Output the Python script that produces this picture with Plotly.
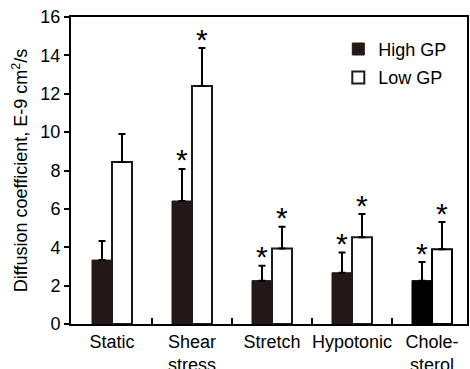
import plotly.graph_objects as go

categories = ["Static", "Shear<br>stress", "Stretch", "Hypotonic", "Chole-<br>sterol"]
high_gp = [3.33, 6.41, 2.26, 2.67, 2.26]
high_gp_err = [1.00, 1.67, 0.78, 1.05, 0.97]
low_gp = [8.44, 12.40, 3.94, 4.52, 3.89]
low_gp_err = [1.46, 1.98, 1.13, 1.21, 1.42]
high_sig = [False, True, True, True, True]
low_sig = [False, True, True, True, True]
y_ticks = [0, 2, 4, 6, 8, 10, 12, 14, 16]

DARK = "#231815"
high_colors = [DARK, DARK, DARK, DARK, "#000000"]
low_lines = [DARK, DARK, DARK, DARK, "#000000"]
FONT = "Liberation Sans, Arial, sans-serif"

fig = go.Figure()
fig.add_trace(go.Bar(
    name="High GP", x=categories, y=high_gp, legendgroup="h",
    marker=dict(color=high_colors, line=dict(color=high_colors, width=1)),
    error_y=dict(type="data", array=high_gp_err, arrayminus=[0]*5, symmetric=False,
                 color="#000000", thickness=2, width=3.5),
))
fig.add_trace(go.Bar(
    name="Low GP", x=categories, y=low_gp, legendgroup="l",
    marker=dict(color="#ffffff", line=dict(color=low_lines, width=2)),
    error_y=dict(type="data", array=low_gp_err, arrayminus=[0]*5, symmetric=False,
                 color="#000000", thickness=2, width=3.5),
))

# significance asterisks above error bars
for i in range(len(categories)):
    for sig, val, err, off in ((high_sig[i], high_gp[i], high_gp_err[i], -0.125),
                               (low_sig[i], low_gp[i], low_gp_err[i], 0.125)):
        if sig:
            fig.add_annotation(x=i + off, y=val + err, text="*", showarrow=False,
                               xref="x", yref="y", yanchor="middle", yshift=9,
                               font=dict(family=FONT, size=30, color="#000000"))

fig.update_layout(
    width=470, height=369,
    margin=dict(l=71, r=3, t=17, b=45, autoexpand=False),
    paper_bgcolor="white", plot_bgcolor="white",
    barmode="group", bargap=0.5, bargroupgap=0,
    font=dict(family=FONT, size=18, color="#000000"),
    showlegend=True,
    legend=dict(x=0.675, y=0.955, xanchor="left", yanchor="top",
                bgcolor="rgba(0,0,0,0)", tracegroupgap=2,
                font=dict(family=FONT, size=18, color="#000000")),
)
fig.update_xaxes(
    type="category", range=[-0.5125, 4.4375], tickangle=0, automargin=False,
    showline=True, linecolor="#000000", linewidth=2, mirror=True,
    ticks="inside", tickson="boundaries", ticklen=6, tickwidth=2, tickcolor="#000000",
    showgrid=False, tickfont=dict(family=FONT, size=18, color="#000000"),
)
fig.update_yaxes(
    range=[0, 16], tickvals=y_ticks, automargin=False,
    showline=True, linecolor="#000000", linewidth=2, mirror=True,
    ticks="outside", ticklen=5, tickwidth=2, tickcolor="#000000",
    showgrid=False, zeroline=False,
    tickfont=dict(family=FONT, size=18, color="#000000"),
    title=dict(text="Diffusion coefficient, E-9 cm<sup>2</sup>/s", standoff=8,
               font=dict(family=FONT, size=18, color="#000000")),
)

fig.write_html("out.html", config={"displayModeBar": False},
               post_script="document.body.style.margin='0';")
